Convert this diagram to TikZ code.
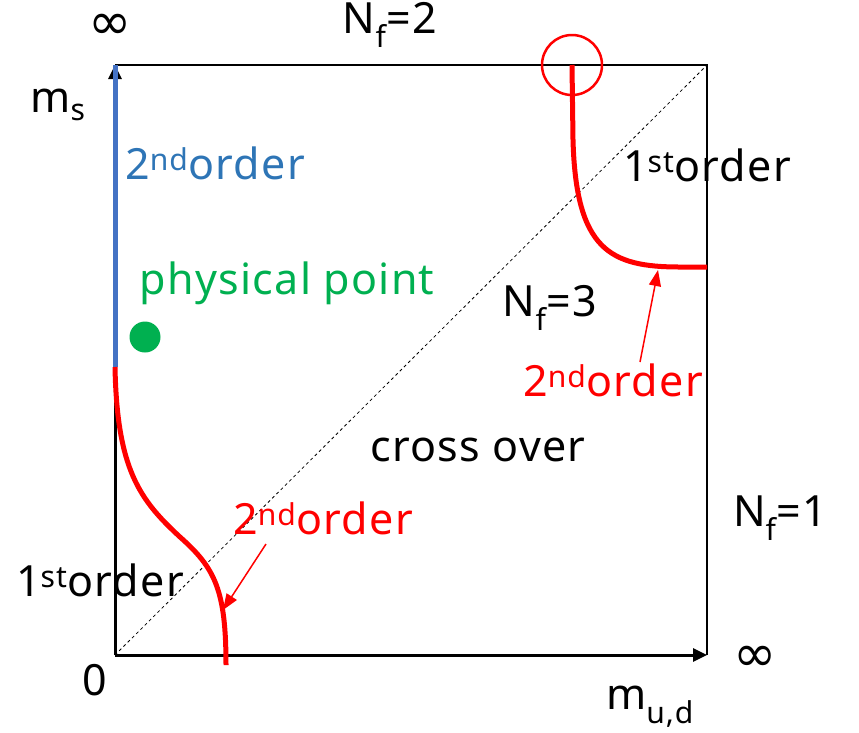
\documentclass[tikz,border=0pt]{standalone}
\usepackage{fontspec}
\setmainfont{Noto Sans}[LetterSpace=3.0]
\newfontfamily\symfont{DejaVu Sans}
\usepackage{xcolor}
\usetikzlibrary{arrows.meta, positioning}
\definecolor{lineblue}{RGB}{68,114,196}
\definecolor{textblue}{RGB}{46,117,182}
\definecolor{ptgreen}{RGB}{0,176,80}
\newcommand{\ordinal}[2]{#1\textsuperscript{#2}order}

\begin{document}
\begin{tikzpicture}[
    x=1pt, y=-1pt,
    font=\fontsize{43}{48}\selectfont,
    lbl/.style={inner sep=0pt},
    infsign/.style={inner sep=0pt, font=\symfont\fontsize{52}{56}\selectfont},
    axisline/.style={line width=3pt, -{Triangle[length=14pt, width=13pt]}},
    edgeline/.style={line width=2pt},
    critline/.style={red, line width=5pt},
    pointer/.style={red, line width=1.5pt, -{Triangle[length=16pt, width=12pt]}}
]
\useasboundingbox (0,0) rectangle (859,732);

% corners of the mass plane
\coordinate (origin) at (115,655);
\coordinate (xend) at (707,655);
\coordinate (yend) at (115,65);
\coordinate (corner) at (707,65);
\coordinate (bluestop) at (115,367);

% frame and diagonal
\draw[edgeline] (yend) -- (corner) -- (xend);
\draw[dashed, line width=0.8pt] (origin) -- (corner);
\draw[axisline] (origin) -- (xend);
\draw[axisline] (origin) -- (yend);
\draw[lineblue, line width=5pt] (bluestop) -- (yend);

% critical lines
\draw[critline] (bluestop) .. controls (117,470) and (140,500) .. (180,537)
    .. controls (215,568) and (226,590) .. (226,665);
\draw[critline] (572,65) -- (573,140) .. controls (576,250) and (610,267) .. (680,267) -- (corner |- 0,267);
\node[draw=red, line width=2.5pt, circle, minimum size=60pt] (endpoint) at (572,65) {};

% physical point
\node[circle, fill=ptgreen, minimum size=31pt, inner sep=0pt] (phys) at (145,337) {};

% labels
\node[infsign] (inftop) at (110,27) {∞};
\node[lbl] (nf2) at (390,25) {N\textsubscript{f}=2};
\node[lbl] (ms) at (58,105) {m\textsubscript{s}};
\node[lbl, textblue] (blue2nd) at (215,163) {\ordinal{2}{nd}};
\node[lbl, ptgreen] (physlbl) at (287,283) {physical point};
\node[lbl] (first1) at (707,165) {\ordinal{1}{st}};
\node[lbl] (nf3) at (550,308) {N\textsubscript{f}=3};
\node[lbl, red] (red2ndup) at (613,380) {\ordinal{2}{nd}};
\node[lbl] (cross) at (478,450) {cross over};
\node[lbl, red] (red2ndlow) at (323,518) {\ordinal{2}{nd}};
\node[lbl] (nf1) at (780,518) {N\textsubscript{f}=1};
\node[lbl] (first2) at (100,580) {\ordinal{1}{st}};
\node[lbl] (zero) at (95,680) {0};
\node[infsign] (infright) at (755,659) {∞};
\node[lbl] (mud) at (650,707) {m\textsubscript{u,d}};

% pointers to the second order lines
\coordinate (uptip) at (658,270);
\coordinate (lowtip) at (223,610);
\draw[pointer] (640,362) -- (uptip);
\draw[pointer] (266,544) -- (lowtip);

\end{tikzpicture}
\end{document}
